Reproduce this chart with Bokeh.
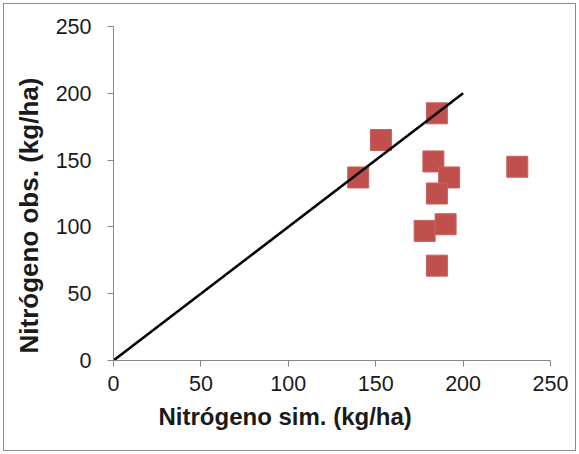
from bokeh.plotting import figure
from bokeh.models import Range1d, Title, FixedTicker
from bokeh.embed import file_html
from bokeh.resources import INLINE

# Data
sim_n = [140, 153, 185, 183, 192, 185, 231, 178, 190, 185]
obs_n = [137, 165, 185, 149, 137, 125, 145, 97, 102, 71]
line_x = [0, 200]
line_y = [0, 200]
ticks = [0, 50, 100, 150, 200, 250]

FONT = "Liberation Sans"
AXIS_GRAY = "#868686"

p = figure(width=579, height=454, output_backend="svg", toolbar_location=None,
           x_range=Range1d(0, 250), y_range=Range1d(0, 250),
           min_border_left=113, min_border_right=29, min_border_top=26, min_border_bottom=94)
p.outline_line_color = None
p.grid.visible = False
p.background_fill_color = "white"
p.border_fill_alpha = 0
p.styles = {"outline": "1.5px solid #8c8c8c", "outline-offset": "-4px", "background": "white"}

for ax in (p.xaxis, p.yaxis):
    ax.ticker = FixedTicker(ticks=ticks)
    ax.axis_line_color = AXIS_GRAY
    ax.major_tick_line_color = AXIS_GRAY
    ax.major_tick_out = 6
    ax.major_tick_in = 0
    ax.minor_tick_line_color = None
    ax.major_label_text_font = FONT
    ax.major_label_text_font_size = "21.5px"
    ax.major_label_text_color = "#1a1a1a"
p.xaxis.major_label_standoff = 9
p.yaxis.major_label_standoff = 16

p.scatter(sim_n, obs_n, marker="square", size=21, fill_color="#C0504D",
          line_color="#C8605D", line_width=1)
p.line(line_x, line_y, line_color="black", line_width=2.5)

xt = Title(text="Nitrógeno sim. (kg/ha)", align="left", offset=45, standoff=15,
           text_font=FONT, text_font_size="24px", text_font_style="bold", text_color="#1a1a1a")
yt = Title(text="Nitrógeno obs. (kg/ha)", align="left", offset=7, standoff=17,
           text_font=FONT, text_font_size="26px", text_font_style="bold", text_color="#1a1a1a")
p.add_layout(xt, "below")
p.add_layout(yt, "left")

open("out.html", "w").write(file_html(p, INLINE))
